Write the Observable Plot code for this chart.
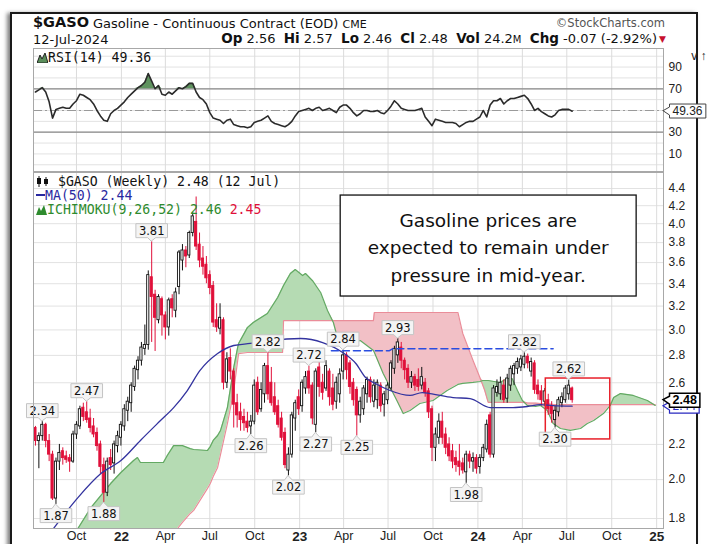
<!DOCTYPE html>
<html><head><meta charset="utf-8">
<script src="https://cdn.jsdelivr.net/npm/d3@7"></script>
<script src="https://cdn.jsdelivr.net/npm/@observablehq/plot@0.6"></script>
<style>
html,body{margin:0;padding:0;background:#fff;}
body{width:709px;height:544px;position:relative;overflow:hidden;font-family:"DejaVu Sans",sans-serif;color:#111;}
#frame{position:absolute;left:10px;top:12px;width:684px;height:560px;border:2px solid #1a1a1a;box-shadow:-3px 1px 4px rgba(0,0,0,.5);}
.abs{position:absolute;white-space:nowrap;line-height:1;}
.mono{font-family:"DejaVu Sans Mono",monospace;font-size:13.2px;}
#rsi,#price{position:absolute;left:0;}
</style></head><body>
<div id="frame"></div>
<div class="abs" style="left:33px;top:15px;font-weight:bold;font-size:14.5px;">$GASO</div>
<div class="abs" style="left:93px;top:17px;font-size:13px;">Gasoline - Continuous Contract (EOD) <span style="font-size:11px">CME</span></div>
<div class="abs" style="right:44px;top:18px;font-size:11.5px;color:#555;">&copy;StockCharts.com</div>
<div class="abs" style="left:33px;top:33px;font-size:13px;">12-Jul-2024</div>
<div class="abs" style="right:52px;top:32px;font-size:13px;"><b style="font-size:13.5px">Op</b> 2.56 &nbsp;<b style="font-size:13.5px">Hi</b> 2.57 &nbsp;<b style="font-size:13.5px">Lo</b> 2.46 &nbsp;<b style="font-size:13.5px">Cl</b> 2.48 &nbsp;<b style="font-size:13.5px">Vol</b> 24.2<span style="font-size:10px">M</span> &nbsp;<b style="font-size:13.5px">Chg</b> -0.07 (-2.92%)</div>
<div class="abs" style="left:659px;top:35px;font-size:9px;color:#c8102e;">&#9660;</div>
<div id="rsi" style="top:48px"></div>
<div id="price" style="top:171px"></div>
<div class="abs mono" style="left:37px;top:51px;"><svg width="11" height="11" style="vertical-align:-1px"><path d="M0,11 L3,3 L5,7 L8,1 L11,11Z" fill="#5b8f5b" stroke="#222" stroke-width="1"/></svg>RSI(14) 49.36</div>
<div class="abs mono" style="left:36px;top:175px;"><svg width="14" height="11" style="vertical-align:-1px"><rect x="1" y="2" width="4" height="6" fill="#111"/><line x1="3" y1="0" x2="3" y2="11" stroke="#111"/><rect x="8" y="3" width="4" height="5" fill="#111"/><line x1="10" y1="1" x2="10" y2="10" stroke="#111"/></svg> $GASO (Weekly) 2.48 (12 Jul)</div>
<div class="abs mono" style="left:36px;top:189px;color:#2828a0;"><svg width="9" height="10" style="vertical-align:0"><line x1="0" y1="5" x2="9" y2="5" stroke="#2828a0" stroke-width="2"/></svg>MA(50) 2.44</div>
<div class="abs mono" style="left:36px;top:203px;color:#2e8b2e;"><svg width="11" height="11" style="vertical-align:-1px"><path d="M0,11 L3,3 L5,7 L8,1 L11,11Z" fill="#2e8b2e"/></svg>ICHIMOKU(9,26,52) 2.46 <span style="color:#e0103a">2.45</span></div>
<script>
// ---------- data ----------
const firstWeek = "2021-07-09";
const open = [
2.30,2.22,2.25,2.32,2.22,2.14,1.90,2.10,2.16,2.13,
2.12,2.10,2.26,2.31,2.43,2.40,2.36,2.31,2.27,2.20,
2.08,1.93,2.12,2.09,2.19,2.24,2.31,2.41,2.46,2.57,
2.69,2.76,2.85,2.88,3.46,3.30,3.08,3.26,3.12,3.02,
3.26,3.16,3.37,3.62,3.72,3.67,3.90,4.02,3.78,3.64,
3.58,3.48,3.38,3.08,3.01,3.08,2.60,2.78,2.68,2.46,
2.40,2.37,2.34,2.31,2.34,2.60,2.42,2.52,2.72,2.60,
2.50,2.44,2.36,2.27,2.05,2.14,2.36,2.50,2.44,2.56,
2.68,2.58,2.32,2.71,2.60,2.56,2.68,2.56,2.47,2.52,
2.68,2.80,2.74,2.60,2.55,2.38,2.42,2.52,2.62,2.47,
2.48,2.58,2.45,2.48,2.56,2.70,2.80,2.86,2.76,2.70,
2.60,2.64,2.62,2.58,2.60,2.54,2.42,2.18,2.24,2.34,
2.26,2.20,2.16,2.12,2.10,2.09,2.04,2.14,2.10,2.12,
2.07,2.12,2.17,2.38,2.14,2.53,2.52,2.58,2.49,2.58,
2.66,2.70,2.71,2.73,2.79,2.68,2.74,2.58,2.54,2.47,
2.48,2.44,2.35,2.40,2.46,2.48,2.52,2.56];
const high = [
2.31,2.27,2.34,2.33,2.26,2.16,2.12,2.20,2.18,2.16,
2.14,2.28,2.34,2.44,2.46,2.47,2.42,2.36,2.30,2.22,
2.12,2.12,2.17,2.22,2.28,2.34,2.45,2.50,2.60,2.72,
2.79,2.90,3.04,3.52,3.81,3.34,3.30,3.28,3.15,3.27,
3.30,3.36,3.72,3.78,3.76,3.92,4.12,4.30,3.90,3.76,
3.66,3.52,3.42,3.22,3.22,3.10,2.82,2.85,2.70,2.52,
2.46,2.42,2.40,2.38,2.62,2.64,2.60,2.74,2.82,2.71,
2.60,2.48,2.40,2.30,2.18,2.40,2.48,2.55,2.62,2.68,
2.72,2.60,2.70,2.75,2.66,2.76,2.70,2.66,2.64,2.70,
2.84,2.82,2.76,2.63,2.57,2.50,2.58,2.64,2.64,2.62,
2.62,2.60,2.54,2.60,2.76,2.87,2.93,2.90,2.78,2.73,
2.68,2.66,2.70,2.71,2.63,2.56,2.44,2.30,2.39,2.40,
2.30,2.24,2.20,2.16,2.20,2.12,2.16,2.16,2.15,2.14,
2.14,2.20,2.35,2.40,2.58,2.62,2.64,2.62,2.66,2.72,
2.74,2.78,2.80,2.82,2.81,2.78,2.76,2.62,2.58,2.56,
2.52,2.47,2.44,2.50,2.53,2.58,2.62,2.57];
const low = [
2.19,2.06,2.22,2.18,2.10,1.89,1.87,2.05,2.08,2.09,
2.04,2.09,2.23,2.29,2.34,2.33,2.27,2.24,2.16,2.03,
1.88,1.91,2.05,2.03,2.15,2.19,2.28,2.34,2.40,2.54,
2.62,2.72,2.80,2.84,2.90,2.83,3.05,2.95,2.92,2.95,
3.10,3.10,3.30,3.52,3.55,3.64,3.86,3.72,3.55,3.48,
3.40,3.30,3.02,2.98,2.96,2.55,2.56,2.62,2.30,2.30,
2.28,2.28,2.27,2.26,2.32,2.38,2.40,2.46,2.48,2.44,
2.38,2.30,2.22,2.06,2.02,2.12,2.28,2.38,2.40,2.52,
2.52,2.32,2.27,2.50,2.48,2.54,2.44,2.41,2.42,2.46,
2.62,2.62,2.52,2.44,2.25,2.33,2.38,2.46,2.46,2.43,
2.42,2.40,2.37,2.45,2.54,2.66,2.74,2.70,2.62,2.56,
2.56,2.54,2.54,2.55,2.50,2.36,2.10,2.10,2.20,2.20,
2.14,2.10,2.06,2.04,2.02,2.03,1.98,2.06,2.04,2.03,
2.03,2.10,2.15,2.12,2.12,2.50,2.48,2.46,2.46,2.54,
2.58,2.66,2.68,2.70,2.70,2.64,2.52,2.48,2.44,2.44,
2.38,2.33,2.30,2.37,2.43,2.46,2.48,2.46];
const close = [
2.22,2.25,2.32,2.22,2.14,1.90,2.10,2.15,2.12,2.11,
2.10,2.26,2.32,2.42,2.37,2.35,2.30,2.26,2.19,2.07,
1.93,2.10,2.08,2.20,2.25,2.32,2.42,2.47,2.58,2.70,
2.76,2.86,2.88,3.48,3.28,3.10,3.28,3.12,3.02,3.25,
3.18,3.32,3.70,3.72,3.66,3.90,4.08,3.76,3.62,3.56,
3.45,3.36,3.06,3.02,3.10,2.60,2.77,2.68,2.45,2.38,
2.35,2.33,2.30,2.34,2.58,2.40,2.55,2.72,2.52,2.46,
2.40,2.32,2.24,2.08,2.14,2.38,2.46,2.42,2.60,2.64,
2.56,2.36,2.68,2.57,2.53,2.72,2.50,2.45,2.60,2.66,
2.80,2.69,2.57,2.48,2.38,2.47,2.56,2.62,2.50,2.58,
2.60,2.44,2.52,2.58,2.74,2.85,2.90,2.76,2.69,2.60,
2.64,2.58,2.57,2.64,2.53,2.40,2.18,2.26,2.34,2.24,
2.18,2.13,2.10,2.08,2.07,2.05,2.14,2.10,2.12,2.06,
2.12,2.18,2.32,2.14,2.56,2.57,2.60,2.48,2.63,2.70,
2.72,2.75,2.77,2.79,2.74,2.75,2.55,2.52,2.48,2.54,
2.42,2.39,2.41,2.48,2.50,2.56,2.58,2.48];
const rsi = [
67,69,71,67,58,43,51,52,53,52,
52,56,59,65,64,62,60,56,50,45,
41,40,47,50,52,55,58,62,65,68,
71,73,76,84,77,70,73,65,64,67,
65,68,71,70,72,75,75,67,62,60,
56,48,43,42,41,38,41,42,37,36,
35,35,34,35,39,40,41,43,45,40,
38,37,36,35,37,40,45,49,50,51,
52,50,52,53,50,51,52,50,48,53,
55,55,52,48,45,47,50,50,49,49,
50,48,47,50,54,59,56,52,51,50,
50,50,51,52,44,40,36,42,41,40,
39,39,39,38,35,37,39,40,40,42,
44,50,44,55,59,59,61,56,59,61,
61,62,63,64,61,56,50,52,49,47,
45,44,46,50,51,51,51,49.36];
const maDates = ["2021-08-15","2021-10-04","2021-11-20","2021-12-31","2022-02-09","2022-03-22","2022-04-18","2022-05-16","2022-06-11","2022-07-17","2022-08-19","2022-09-22","2022-11-02","2023-01-03","2023-02-17","2023-03-30","2023-04-26","2023-05-16","2023-06-05","2023-07-05","2023-08-15","2023-09-09","2023-09-25","2023-11-11","2023-12-16","2024-01-26","2024-03-13","2024-04-11","2024-05-08","2024-06-03","2024-07-12"];
const maValues = [1.752,1.905,2.033,2.106,2.224,2.347,2.431,2.546,2.688,2.814,2.876,2.892,2.915,2.931,2.899,2.822,2.739,2.637,2.595,2.546,2.512,2.532,2.525,2.498,2.491,2.431,2.431,2.438,2.451,2.444,2.44];
const cloudDates = ["2021-10-04","2021-10-31","2021-12-10","2021-12-31","2022-01-26","2022-02-03","2022-02-09","2022-03-28","2022-04-05","2022-04-18",
"2022-04-26","2022-05-06","2022-05-22","2022-05-29","2022-06-26","2022-07-02","2022-07-08","2022-07-17","2022-07-23","2022-08-06",
"2022-08-17","2022-08-19","2022-08-27","2022-08-29","2022-09-16","2022-09-28","2022-10-27","2022-11-17","2022-11-27","2022-11-29",
"2022-12-13","2022-12-23","2023-01-07","2023-01-13","2023-01-27","2023-02-13","2023-02-27","2023-03-11","2023-03-21","2023-04-10",
"2023-05-05","2023-06-01","2023-06-03","2023-06-21","2023-07-19","2023-08-01","2023-08-15","2023-09-04","2023-10-01","2023-10-30",
"2023-11-21","2023-12-01","2023-12-22","2024-01-05","2024-01-11","2024-01-15","2024-01-22","2024-02-15","2024-03-01","2024-03-11",
"2024-03-22","2024-04-01","2024-04-11","2024-04-28","2024-05-08","2024-05-22","2024-06-03","2024-06-18","2024-07-08","2024-07-29",
"2024-08-12","2024-08-25","2024-09-14","2024-09-28","2024-10-05","2024-10-19","2024-11-14","2024-12-13","2024-12-29"];
const spanA = [1.752,1.855,1.979,2.039,2.106,2.123,2.095,2.095,2.135,2.193,
2.193,2.193,2.175,2.170,2.164,2.187,2.224,2.254,2.285,2.431,
2.666,2.710,2.860,2.892,3.019,3.061,3.136,3.275,3.365,3.384,
3.495,3.533,3.476,3.495,3.430,3.320,3.162,3.061,2.915,2.892,
2.915,2.837,2.822,2.666,2.478,2.392,2.412,2.458,2.478,2.546,
2.588,2.595,2.602,2.609,2.616,2.616,2.616,2.602,2.630,2.630,
2.546,2.478,2.445,2.438,2.445,2.412,2.328,2.297,2.285,2.297,
2.328,2.347,2.392,2.445,2.498,2.525,2.512,2.478,2.445];
const spanB = [1.60,1.60,1.60,1.60,1.60,1.60,1.60,1.65,1.68,1.72,
1.752,1.781,1.825,1.840,1.952,1.979,2.017,2.067,2.141,2.328,
2.508,2.546,2.758,2.814,2.822,2.822,2.822,2.822,2.822,3.077,
3.077,3.077,3.077,3.077,3.077,3.077,3.077,3.077,3.077,3.077,
3.077,3.077,3.145,3.145,3.145,3.145,3.145,3.145,3.145,3.145,
3.145,2.971,2.761,2.637,2.583,2.546,2.465,2.465,2.465,2.465,
2.465,2.465,2.462,2.460,2.458,2.455,2.452,2.450,2.450,2.450,
2.450,2.450,2.450,2.450,2.450,2.450,2.450,2.450,2.450];
const resistDates = ["2023-03-07","2023-07-03","2023-07-10","2024-06-03"];
const resistValues = [2.835,2.835,2.85,2.85];
const highLabelWeeks = [2,15,34,68,80,90,106,143,156];
const lowLabelWeeks = [6,20,63,74,82,94,126,152];
const priceTicks = [1.8,2.0,2.2,2.4,2.6,2.8,3.0,3.2,3.4,3.6,3.8,4.0,4.2,4.4];
const priceTickLabels = [1.8,2.0,2.2,2.6,2.8,3.0,3.2,3.4,3.6,3.8,4.0,4.2,4.4]; // 2.4 sits behind the value tags
const rsiTicks = [10,30,70,90];
const rsiGrid = [0,10,20,30,40,50,60,70,80,90,100];
const xTicks = ["2021-10-01","2022-01-01","2022-04-01","2022-07-01","2022-10-01","2023-01-01","2023-04-01","2023-07-01","2023-10-01","2024-01-01","2024-04-01","2024-07-01","2024-10-01","2025-01-01"];
const xDomainDates = ["2021-07-05","2025-01-15"];
const noteText = ["Gasoline prices are","expected to remain under","pressure in mid-year."];
const noteDates = ["2023-03-26","2024-11-21"], noteValues = [3.284,4.317];
const noteCenter = {date:"2024-01-22", value:3.77};
const focusDates = ["2024-05-19","2024-09-28"], focusValues = [2.23,2.63];
const maLast = 2.44, rsiLast = 49.36;

// ---------- build ----------
const D = s => new Date(s + "T00:00:00Z");
const RED = "#e0103a", BLACK = "#111";
const weeks = open.map((_, i) => d3.utcDay.offset(D(firstWeek), 7 * i));
const candles = weeks.map((date, i) => ({
  date, o: open[i], h: high[i], l: low[i], c: close[i],
  x1: d3.utcHour.offset(date, -54), x2: d3.utcHour.offset(date, 54),
  col: close[i] < (i ? close[i - 1] : open[i]) ? RED : BLACK,
  hollow: close[i] >= open[i]
}));
const xDomain = xDomainDates.map(D);
const xt = xTicks.map(D);
const cloud = cloudDates.map((d, i) => ({date: D(d), a: spanA[i], b: spanB[i], top: Math.max(spanA[i], spanB[i])}));
const ma = maDates.map((d, i) => ({date: D(d), v: maValues[i]}));
const resist = resistDates.map((d, i) => ({date: D(d), v: resistValues[i]}));
const rsiRows = weeks.map((date, i) => ({date, v: rsi[i]}));
const hiLabels = highLabelWeeks.map(i => ({date: weeks[i], v: high[i], t: high[i].toFixed(2)}));
const loLabels = lowLabelWeeks.map(i => ({date: weeks[i], v: low[i], t: low[i].toFixed(2)}));
const rsiTag = [{date: xDomain[1], v: rsiLast, t: rsiLast.toFixed(2)}];
const maTag = [{date: xDomain[1], v: maLast, t: maLast.toFixed(2)}];
const lastTag = [{date: xDomain[1], v: close[close.length - 1], t: close[close.length - 1].toFixed(2)}];
const xFmt = d => d.getUTCMonth() === 0 ? String(d.getUTCFullYear()).slice(2) : d3.utcFormat("%b")(d);
const tickFont = "Liberation Sans, Arial, sans-serif";
const labFont = "DejaVu Sans, sans-serif";

const rsiPlot = Plot.plot({
  width: 709, height: 123, marginLeft: 33, marginRight: 46, marginTop: 0, marginBottom: 0,
  style: {fontFamily: tickFont, fontSize: "12px", background: "transparent", overflow: "visible"},
  x: {type: "utc", domain: xDomain, axis: null},
  y: {domain: [-6.2, 107.1], axis: null},
  marks: [
    Plot.ruleY(rsiGrid, {stroke: "#e2e2e2"}),
    Plot.ruleX(xt, {stroke: "#dcdcdc"}),
    Plot.ruleY([70, 30], {stroke: "#8a8a8a", strokeWidth: 1.2}),
    Plot.ruleY([50], {stroke: "#9a9a9a", strokeWidth: 1.2, strokeDasharray: "9,3,2,3"}),
    Plot.areaY(rsiRows, {x: "date", y1: 70, y2: d => Math.max(70, d.v), fill: "#5f935f"}),
    Plot.line(rsiRows, {x: "date", y: "v", stroke: "#2b2b2b", strokeWidth: 1.6}),
    Plot.axisY(rsiTicks, {anchor: "right", tickSize: 0, tickPadding: 5, fontSize: 12, fill: "#222"}),
    Plot.frame({stroke: "#a8a8a8"}),
    Plot.text(rsiTag, {x: "date", y: "v", text: "t", dx: 9, textAnchor: "start", lineAnchor: "middle", fontSize: 12, fontFamily: tickFont, fill: "#222", ariaDescription: "rsi-tag"})
  ]
});
document.getElementById("rsi").append(rsiPlot);

const pricePlot = Plot.plot({
  width: 709, height: 373, marginLeft: 33, marginRight: 46, marginTop: 1, marginBottom: 16,
  style: {fontFamily: tickFont, fontSize: "12px", background: "transparent", overflow: "visible"},
  x: {type: "utc", domain: xDomain},
  y: {type: "log", domain: [1.752, 4.595]},
  marks: [
    Plot.ruleY(priceTicks, {stroke: "#e2e2e2"}),
    Plot.ruleX(xt, {stroke: "#dcdcdc"}),
    Plot.areaY(cloud, {x: "date", y1: "b", y2: "top", fill: "#b5dbb3", clip: true}),
    Plot.areaY(cloud, {x: "date", y1: "a", y2: "top", fill: "#f2c0c6", clip: true}),
    Plot.line(cloud, {x: "date", y: "b", stroke: "#ea8d99", strokeWidth: 1.2, clip: true}),
    Plot.line(cloud, {x: "date", y: "a", stroke: "#63a963", strokeWidth: 1.2, clip: true}),
    Plot.ruleX(candles, {x: "date", y1: "l", y2: "h", stroke: "col", strokeWidth: 1}),
    Plot.rect(candles, {x1: "x1", x2: "x2", y1: "o", y2: "c", fill: d => d.hollow ? "#fff" : d.col, stroke: "col", strokeWidth: 0.9}),
    Plot.line(ma, {x: "date", y: "v", stroke: "#33339f", strokeWidth: 1.3, curve: "monotone-x", clip: true}),
    Plot.line(resist, {x: "date", y: "v", stroke: "#2a4de0", strokeWidth: 1.5, strokeDasharray: "7,4"}),
    Plot.rect([0], {x1: () => D(focusDates[0]), x2: () => D(focusDates[1]), y1: () => focusValues[0], y2: () => focusValues[1], fill: "none", stroke: "#e8202a", strokeWidth: 1.5}),
    Plot.rect([0], {x1: () => D(noteDates[0]), x2: () => D(noteDates[1]), y1: () => noteValues[0], y2: () => noteValues[1], fill: "white", stroke: "#111", strokeWidth: 1.3}),
    Plot.text([noteText.join("\n")], {x: () => D(noteCenter.date), y: () => noteCenter.value, text: d => d, fontSize: 18.5, lineHeight: 1.49, fontFamily: labFont, fill: "#111", textAnchor: "middle"}),
    Plot.text(hiLabels, {x: "date", y: "v", text: "t", lineAnchor: "bottom", dy: -7, fontSize: 11.5, fontFamily: labFont, fill: "#111", ariaDescription: "hi-labels"}),
    Plot.text(loLabels, {x: "date", y: "v", text: "t", lineAnchor: "top", dy: 7, fontSize: 11.5, fontFamily: labFont, fill: "#111", ariaDescription: "lo-labels"}),
    Plot.axisY(priceTickLabels, {anchor: "right", tickSize: 0, tickPadding: 5, tickFormat: d => d.toFixed(1), fontSize: 12, fill: "#222"}),
    Plot.axisX(xt, {tickSize: 0, tickPadding: 3, tickFormat: xFmt, fontSize: 12.5, fill: "#222"}),
    Plot.frame({stroke: "#a8a8a8"}),
    Plot.text(maTag, {x: "date", y: "v", text: "t", dx: 9, textAnchor: "start", lineAnchor: "middle", fontSize: 12, fontFamily: tickFont, fill: "#2828c0", ariaDescription: "ma-tag"}),
    Plot.text(lastTag, {x: "date", y: "v", text: "t", dx: 9, textAnchor: "start", lineAnchor: "middle", fontSize: 12.5, fontWeight: "bold", fontFamily: tickFont, fill: "#000", ariaDescription: "last-tag"})
  ]
});
document.getElementById("price").append(pricePlot);
pricePlot.querySelectorAll("g[aria-label='x-axis tick label'] text").forEach(t => {
  if (/^\d\d$/.test(t.textContent)) { t.setAttribute("font-weight", "bold"); t.setAttribute("font-size", "13.5"); }
});

// callout boxes drawn behind the label texts
function addBoxes(svg, label, data, kind, fill, stroke, sw) {
  const g = svg.querySelector(`g[aria-description='${label}']`);
  if (!g) return;
  const sr = svg.getBoundingClientRect();
  const xs = svg.scale("x"), ys = svg.scale("y");
  const ns = "http://www.w3.org/2000/svg";
  const bg = document.createElementNS(ns, "g");
  g.querySelectorAll("text").forEach((t, i) => {
    const r = t.getBoundingClientRect();
    const d = data[i];
    const px = xs.apply(d.date), py = ys.apply(d.v);
    const x0 = r.left - sr.left - 3, x1 = r.right - sr.left + 3;
    const y0 = r.top - sr.top, y1 = r.bottom - sr.top;
    const cx = (x0 + x1) / 2, cy = (y0 + y1) / 2;
    let p;
    if (kind === "down") p = `M${x0},${y0}H${x1}V${y1}H${cx + 4}L${px},${py}L${cx - 4},${y1}H${x0}Z`;
    else if (kind === "up") p = `M${x0},${y1}H${x1}V${y0}H${cx + 4}L${px},${py}L${cx - 4},${y0}H${x0}Z`;
    else p = `M${x1},${y0}V${y1}H${x0}V${cy + 4}L${px},${py}L${x0},${cy - 4}V${y0}Z`;
    const path = document.createElementNS(ns, "path");
    path.setAttribute("d", p);
    path.setAttribute("fill", fill);
    path.setAttribute("stroke", stroke);
    path.setAttribute("stroke-width", sw);
    bg.appendChild(path);
  });
  g.parentNode.insertBefore(bg, g);
}
try {
  addBoxes(pricePlot, "hi-labels", hiLabels, "down", "#f4f4f4", "#c4c4c4", 1);
  addBoxes(pricePlot, "lo-labels", loLabels, "up", "#f4f4f4", "#c4c4c4", 1);
  addBoxes(pricePlot, "ma-tag", maTag, "left", "#fff", "#2828c0", 1.2);
  addBoxes(pricePlot, "last-tag", lastTag, "left", "#fff", "#000", 1.5);
  addBoxes(rsiPlot, "rsi-tag", rsiTag, "left", "#fff", "#444", 1);
} catch (e) { console.error(e); }
</script>
</body></html>
